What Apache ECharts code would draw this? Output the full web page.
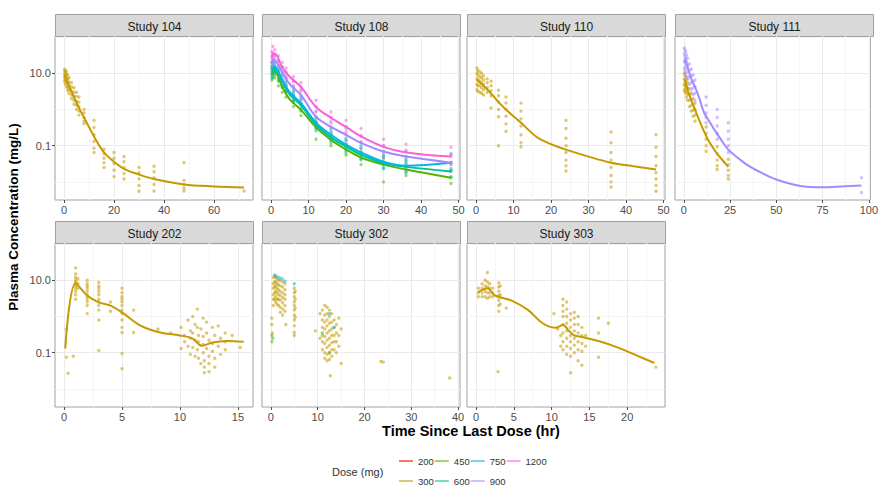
<!DOCTYPE html>
<html>
<head>
<meta charset="utf-8">
<script src="https://cdn.jsdelivr.net/npm/echarts@6.0.0/dist/echarts.min.js"></script>
<style>
  html, body { margin: 0; padding: 0; background: #ffffff; }
  #chart { width: 881px; height: 487px; }
</style>
</head>
<body>
<div id="chart"></div>
<script>
// ---- Observed concentrations (mg/L): [time (hr), [concentrations at that time]] ----
const pts104_300 = [
  [0.25,[13,11,9,7.5,6]],[0.5,[12,10,8,6.5,5]],[1,[11,9,7,5.5,4.2]],[1.5,[9,7,5.5,4.2,3.4]],
  [2,[7.5,5.8,4.5,3.5,2.8]],[3,[5.5,4.2,3.2,2.5,2]],[4,[4,3,2.3,1.8,1.4]],[5,[3,2.3,1.7,1.3,1]],
  [6,[2.2,1.6,1.2,0.9,0.7]],[8,[1,0.8,0.6,0.47,0.4]],[12,[0.5,0.32,0.2,0.13,0.085,0.065]],
  [16,[0.08,0.06,0.045,0.034,0.025]],[20,[0.065,0.045,0.032,0.021,0.014]],[24,[0.05,0.036,0.025,0.017,0.012]],
  [30,[0.025,0.018,0.012,0.008,0.0055]],[36,[0.027,0.019,0.013,0.0085,0.0056]],
  [48,[0.034,0.011,0.0085,0.0067,0.0056]],[72,[0.0056]]
];
const pts108_450 = [
  [0.25,[14,9.5,6.5]],[0.5,[16,11,7.5]],[1,[15,11,7.5]],[2,[9.5,6.5,4.5]],[3,[6,4.2,3]],[4,[4.5,3.2,2.2]],
  [6,[2.4,1.7,1.2]],[8,[1.4,0.98,0.68]],[12,[0.46,0.32,0.15]],[16,[0.21,0.145,0.1]],[20,[0.11,0.079,0.055]],
  [24,[0.068,0.047,0.03]],[30,[0.044,0.03,0.01]],[36,[0.032,0.022,0.015]],[48,[0.02,0.013,0.009]]
];
const pts108_600 = [
  [0.25,[16,11,7.5]],[0.5,[19,13,9]],[1,[18,13,9]],[2,[12,8.5,6]],[3,[8.5,5.8,4]],[4,[6,4.2,3]],
  [6,[3.2,2.3,1.6]],[8,[1.9,1.3,0.9]],[12,[0.55,0.38,0.26]],[16,[0.25,0.17,0.12]],[20,[0.14,0.095,0.065]],
  [24,[0.085,0.056,0.04]],[30,[0.05,0.033,0.023]],[36,[0.038,0.026,0.018]],[48,[0.03,0.02,0.014]]
];
const pts108_750 = [
  [0.25,[20,13,9]],[0.5,[24,16,11]],[1,[21,15,10]],[2,[14,10,7]],[3,[9.5,6.5,4.5]],[4,[7,4.8,3.4]],
  [6,[3.8,2.6,1.8]],[8,[2.2,1.5,1.05]],[12,[0.62,0.43,0.3]],[16,[0.3,0.2,0.14]],[20,[0.16,0.11,0.075]],
  [24,[0.1,0.065,0.045]],[30,[0.055,0.036,0.025]],[36,[0.042,0.028,0.019]],[48,[0.06,0.034,0.022]]
];
const pts108_900 = [
  [0.25,[30,20,14]],[0.5,[35,24,17]],[1,[30,22,16]],[2,[22,16,11]],[3,[15,10.5,7.5]],[4,[11,8,5.5]],
  [6,[6,4.2,3]],[8,[3.5,2.5,1.8]],[12,[0.9,0.62,0.45]],[16,[0.48,0.33,0.23]],[20,[0.3,0.2,0.14]],
  [24,[0.18,0.12,0.085]],[30,[0.1,0.07,0.048]],[36,[0.075,0.05,0.034]],[48,[0.05,0.034,0.024]]
];
const pts108_1200 = [
  [0.25,[40,28,20]],[0.5,[55,35,24]],[1,[45,32,25]],[2,[30,22,16]],[3,[20,15,11]],[4,[14,10,7.5]],
  [6,[8,6,4.5]],[8,[5.5,4.2,3.2]],[12,[1.8,1.2,0.85]],[16,[0.85,0.6,0.42]],[20,[0.5,0.34,0.24]],
  [24,[0.3,0.19,0.13]],[30,[0.15,0.1,0.065]],[36,[0.11,0.07,0.05]],[48,[0.09,0.055,0.035]]
];
const pts110_300 = [
  [0.25,[14,10,7,5,3.5]],[0.5,[12,9,6.5,4.5,3.2]],[1,[11,8,6,4.5,3]],[1.5,[10,7.5,5.5,4,2.8]],
  [2,[8.5,6.5,5,3.5,2.5]],[3,[7,5.5,4,3]],[4,[6,4.5,3.3,2.4,1.1]],[6,[3.4,2.4,1.6,1,0.63,0.1]],
  [8,[2.2,1.5,1,0.65,0.4,0.25]],[12,[1.5,0.9,0.55,0.35,0.2,0.12,0.093]],
  [24,[0.5,0.3,0.16,0.1,0.065,0.04,0.028,0.02]],[36,[0.24,0.12,0.065,0.04,0.025,0.015,0.01,0.0072]],
  [48,[0.2,0.09,0.05,0.028,0.018,0.012,0.008,0.0055]]
];
const pts111_300 = [
  [0.25,[10,7,5,3.5]],[0.5,[9,6.5,4.5,3.2]],[1,[8,5.5,4,2.8]],[1.5,[6.5,4.5,3.2,2.2]],[2,[5.5,3.8,2.6,1.8]],
  [3,[3.8,2.6,1.8,1.2]],[4,[2.8,1.9,1.3,0.9]],[5,[2,1.4,0.95,0.65]],[6,[1.5,1,0.7,0.48]],
  [12,[0.33,0.22,0.15,0.1,0.07]],[18,[0.093,0.06,0.04,0.028,0.022]],[24,[0.042,0.03,0.021,0.015,0.012]]
];
const pts111_900 = [
  [0.25,[50,35,22,14]],[0.5,[45,30,20,12]],[1,[40,26,17,10]],[1.5,[32,21,14,8]],[2,[26,17,11,7]],
  [3,[18,12,8,5]],[4,[13,8.5,5.5,3.5]],[5,[9,6,4,2.6]],[6,[6.5,4.3,2.8,1.8]],
  [12,[2.2,1.3,0.8,0.6,0.43]],[18,[1,0.6,0.35,0.22,0.15]],[24,[0.43,0.25,0.15,0.1,0.065]],[96,[0.013,0.0051]]
];
const pts202_300 = [
  [0.2,[0.45,0.075]],[0.35,[0.027]],[0.8,[0.08]],
  [1,[22,15,12,10,9,8,7,6,5,4,3]],[1.2,[11,8,6]],
  [2,[10,8,7,6,5,4,3.5,3,2.5,2,1.2]],[3,[8.7,7,6,5,4,3,2.5,2,1.5,0.8,0.115]],[4,[2.5,1.4]],
  [5,[6,4.5,3.5,3,2.5,2,1.5,1.2,0.8,0.5,0.36,0.095,0.036]],[6,[1.5,0.36]],[8.1,[0.45]],[9.2,[0.35]],
  [10.1,[0.5,0.13]],[10.4,[0.3,0.2]],[10.7,[0.8,0.15]],[10.9,[0.4,0.25,0.09]],[11.1,[1.0,0.35,0.14]],
  [11.3,[0.6,0.22,0.08]],[11.5,[1.6,0.5,0.12]],[11.6,[0.3,0.2,0.07]],[11.8,[0.05,0.45]],
  [12,[0.9,0.28,0.17,0.1]],[12.1,[0.06,0.04,0.028]],[12.3,[0.7,0.35,0.13]],[12.5,[0.22,0.08,0.05,0.03]],
  [12.8,[0.5,0.18,0.11]],[13,[0.3,0.07,0.04]],[13.3,[0.55,0.15]],[13.5,[0.25,0.09]],
  [13.9,[0.35,0.2,0.12]],[14.5,[0.3]],[15.2,[0.14]]
];
const pts302_300 = [
  [0.2,[0.9,0.6]],[0.3,[0.35]],
  [0.5,[12,8,6,4,3,2]],[0.8,[13,9,6.5,4.5,3]],[1,[12,9,7,5,3.5,2.5]],[1.3,[11,8,6,4.5,3,2.2]],
  [1.6,[10,7.5,5.5,4,3,2]],[2,[10,7,5,3.8,2.8,1.8,1.3]],[2.5,[9,6.5,4.5,3.3,2.4,1.6,1.1]],
  [3,[8,5.5,4,3,2,1.4]],[3.2,[0.6]],
  [5,[6,4.5,3.5,2.5,2,1.5,1.1,0.8,0.55,0.36,0.3]],[5.2,[5,3,1.7,0.95]],
  [9.5,[0.4]],[10.5,[1.2,0.25]],[11,[1.5,0.8,0.5,0.3,0.2,0.12]],[11.5,[2,1.1,0.7,0.45,0.28,0.18,0.1,0.07]],
  [12,[1.8,1.2,0.8,0.55,0.35,0.22,0.14,0.09,0.06]],[12.5,[1.5,1,0.65,0.4,0.25,0.16,0.1,0.065]],
  [12.7,[0.023]],[13,[1.2,0.7,0.45,0.3,0.19,0.12,0.08]],[13.5,[0.8,0.5,0.3,0.2,0.12]],
  [14,[0.6,0.35,0.2,0.1]],[14.5,[0.9,0.3,0.15]],[15,[0.45,0.05]],
  [23.5,[0.057]],[24,[0.055]],[38.2,[0.02]]
];
const pts302_450 = [[0.2,[0.3,0.2]],[0.4,[0.25]],[11,[0.35]],[12.5,[0.1]]];
const pts302_750 = [[0.8,[14]],[1.2,[13]],[1.8,[12]],[2.4,[11]],[3,[9.5]],[5,[8]],[12.5,[1.2]],[13.5,[0.5]]];
const pts303_300 = [
  [0.3,[6,4.5,3.5]],[0.8,[8,6,4.5,3.5]],[1.2,[10,7,5,3.5]],[1.5,[16.5,9,6.5,4.5,3.2]],[1.8,[8,6,4.5,3.5]],
  [2.2,[6,4.5,3.5]],[3,[8.5,6.5,5,3.8,2.8,2,1.4]],[3.2,[7,4,2.2]],[2.9,[0.03]],[4,[1.7]],
  [10.3,[1.2]],[10.8,[0.45]],[11.2,[0.3,0.15]],[11.5,[3,2,1.4,1,0.6,0.35,0.2,0.12]],
  [12,[2.5,1.6,1,0.65,0.4,0.25,0.15,0.09]],[12.5,[1.2,0.8,0.5,0.3,0.2,0.13,0.08,0.028]],
  [13,[1.3,0.9,0.6,0.4,0.25,0.16,0.1]],[13.5,[1,0.6,0.35,0.2,0.12,0.06]],[14,[0.5,0.3,0.18,0.11,0.045]],
  [14.5,[0.3,0.15]],[16.2,[0.9,0.35,0.075]],[17.5,[0.65]],[23.8,[0.04]]
];

// ---- Smoothed concentration-time curves: [time (hr), concentration (mg/L)] ----
const line104_300 = [[0.25,9],[1,6.5],[2,4.5],[4,2.2],[6,1.1],[8,0.6],[10,0.33],[12,0.18],[16,0.065],[20,0.036],[24,0.023],[30,0.016],[36,0.012],[48,0.0085],[60,0.0075],[72,0.007]];
const line108_450 = [[0.25,9.5],[1,11],[3,4.2],[5,1.9],[8,0.98],[12,0.32],[16,0.145],[20,0.079],[24,0.047],[30,0.03],[36,0.022],[48,0.013]];
const line108_600 = [[0.25,11],[1,13],[3,5.8],[5,2.6],[8,1.3],[12,0.38],[16,0.17],[20,0.095],[24,0.056],[30,0.033],[36,0.026],[48,0.0195]];
const line108_750 = [[0.25,13],[1,15],[3,6.5],[5,3.0],[8,1.5],[12,0.43],[16,0.2],[20,0.107],[24,0.065],[30,0.036],[36,0.028],[48,0.034]];
const line108_900 = [[0.25,20],[1,22],[3,10.7],[5,5.0],[8,2.5],[12,0.63],[16,0.33],[20,0.2],[24,0.12],[30,0.069],[36,0.05],[48,0.034]];
const line108_1200 = [[0.25,28],[1,35],[3,14.5],[5,8.0],[8,4.2],[12,1.17],[16,0.59],[20,0.33],[24,0.18],[30,0.093],[36,0.065],[48,0.05]];
const line110_300 = [[0.25,6.5],[2,4.5],[4,2.8],[6,1.6],[8,1.0],[10,0.65],[12,0.43],[16,0.18],[20,0.11],[24,0.078],[30,0.05],[36,0.034],[42,0.027],[48,0.022]];
const line111_300 = [[0.5,6.5],[2,3.5],[4,1.8],[6,1.0],[8,0.55],[11,0.24],[14,0.12],[17.5,0.065],[20,0.045],[24,0.026]];
const line111_900 = [[0.5,26],[2,15],[4,7],[6,4.2],[8,2.3],[11,0.8],[14,0.45],[17.5,0.23],[20,0.15],[24,0.078],[30,0.043],[34,0.03],[40,0.02],[50,0.0117],[64,0.0076],[75,0.0071],[87,0.0076],[96,0.0079]];
const line202_300 = [[0.1,0.13],[1,8.3],[2,3.8],[3,2.45],[4,2.0],[5,1.3],[6.6,0.56],[8.3,0.36],[10,0.3],[11.1,0.245],[11.9,0.155],[12.8,0.19],[14,0.21],[15.5,0.2]];
const line303_300 = [[0.3,4.7],[1.5,6],[2.5,3.8],[4.7,2.75],[6.9,1.5],[8.8,0.65],[10.5,0.49],[11.5,0.58],[12.3,0.4],[13,0.3],[14,0.27],[16.2,0.21],[18.7,0.14],[21.3,0.083],[23.6,0.052]];

// ---- Axis breaks ----
const yBreaks = [0.1, 10];            // labelled concentration breaks
const yMinorBreaks = [0.01, 1, 100];
const ticks104 = [0, 20, 40, 60],        minor104 = [10, 30, 50, 70];
const ticks108 = [0, 10, 20, 30, 40, 50], minor108 = [5, 15, 25, 35, 45];
const ticks110 = [0, 10, 20, 30, 40, 50], minor110 = [5, 15, 25, 35, 45];
const ticks111 = [0, 25, 50, 75, 100],   minor111 = [12.5, 37.5, 62.5, 87.5];
const ticks202 = [0, 5, 10, 15],         minor202 = [2.5, 7.5, 12.5];
const ticks302 = [0, 10, 20, 30, 40],    minor302 = [5, 15, 25, 35];
const ticks303 = [0, 5, 10, 15, 20],     minor303 = [2.5, 7.5, 12.5, 17.5, 22.5];

const doseColors = {
  '200': '#F8766D', '300': '#C49A00', '450': '#53B400', '600': '#00C094',
  '750': '#00B6EB', '900': '#A58AFF', '1200': '#FB61D7'
};

// ---- Facets ----
const facets = [
  { title: 'Study 104', xRange: [-3.6, 75.6], ticks: ticks104, minor: minor104,
    groups: [['300', pts104_300, line104_300]] },
  { title: 'Study 108', xRange: [-2.4, 50.4], ticks: ticks108, minor: minor108,
    groups: [['450', pts108_450, line108_450], ['600', pts108_600, line108_600], ['750', pts108_750, line108_750],
             ['900', pts108_900, line108_900], ['1200', pts108_1200, line108_1200]] },
  { title: 'Study 110', xRange: [-2.4, 50.4], ticks: ticks110, minor: minor110,
    groups: [['300', pts110_300, line110_300]] },
  { title: 'Study 111', xRange: [-4.8, 100.8], ticks: ticks111, minor: minor111,
    groups: [['300', pts111_300, line111_300], ['900', pts111_900, line111_900]] },
  { title: 'Study 202', xRange: [-0.78, 16.3], ticks: ticks202, minor: minor202,
    groups: [['300', pts202_300, line202_300]] },
  { title: 'Study 302', xRange: [-1.9, 40.4], ticks: ticks302, minor: minor302,
    groups: [['300', pts302_300, null], ['450', pts302_450, null], ['750', pts302_750, null]] },
  { title: 'Study 303', xRange: [-1.2, 25.0], ticks: ticks303, minor: minor303,
    groups: [['300', pts303_300, line303_300]] }
];

const log10 = Math.log10;
function expandPoints(groups) {
  const out = [];
  groups.forEach(function (g) {
    g[1].forEach(function (c) { out.push([g[0], log10(c)]); });
  });
  return out;
}
function curve(pairs) {
  return pairs.map(function (p) { return [p[0], log10(p[1])]; });
}

// ---- Layout ----
const FONT = '"Liberation Sans", Arial, Helvetica, sans-serif';
const colLeft = [55, 262, 467, 675];
const rowTop = [36, 243];
const panelW = 198, panelH = 164, stripH = 22;
const yRange = [-2.5, 2.03];
const TICK_COLOR = '#4d4d4d';

const grid = [], xAxis = [], yAxis = [], series = [], graphic = [];

facets.forEach(function (f, i) {
  const row = i < 4 ? 0 : 1;
  const col = i < 4 ? i : i - 4;
  const left = colLeft[col], top = rowTop[row];
  grid.push({ left: left, top: top, width: panelW, height: panelH, show: true,
              borderColor: '#a0a0a0', borderWidth: 1, backgroundColor: '#ffffff' });

  // main x axis (labels, ticks, major grid)
  xAxis.push({
    type: 'value', gridIndex: i, min: f.xRange[0], max: f.xRange[1], position: 'bottom',
    axisLine: { show: false, onZero: false },
    axisTick: { show: true, length: 3, customValues: f.ticks, lineStyle: { color: TICK_COLOR } },
    axisLabel: { customValues: f.ticks, color: TICK_COLOR, fontSize: 11, fontFamily: FONT, margin: 4 },
    splitLine: { show: true, lineStyle: { color: '#ebebeb', width: 1 } }
  });
  // minor x grid
  xAxis.push({
    type: 'value', gridIndex: i, min: f.xRange[0], max: f.xRange[1], position: 'bottom',
    axisLine: { show: false, onZero: false }, axisLabel: { show: false },
    axisTick: { show: false, customValues: f.minor },
    splitLine: { show: true, lineStyle: { color: '#f5f5f5', width: 1 } }
  });
  const yTicks = yBreaks.map(log10);
  yAxis.push({
    type: 'value', gridIndex: i, min: yRange[0], max: yRange[1], position: 'left',
    axisLine: { show: false, onZero: false },
    axisTick: { show: col === 0, length: 3, customValues: yTicks, lineStyle: { color: TICK_COLOR } },
    axisLabel: { show: col === 0, customValues: yTicks, color: TICK_COLOR, fontSize: 11, fontFamily: FONT, margin: 4,
                 formatter: function (v) { return Math.pow(10, v).toFixed(1); } },
    splitLine: { show: true, lineStyle: { color: '#ebebeb', width: 1 } }
  });
  yAxis.push({
    type: 'value', gridIndex: i, min: yRange[0], max: yRange[1], position: 'left',
    axisLine: { show: false, onZero: false }, axisLabel: { show: false },
    axisTick: { show: false, customValues: yMinorBreaks.map(log10) },
    splitLine: { show: true, lineStyle: { color: '#f5f5f5', width: 1 } }
  });

  // strip header
  graphic.push({
    type: 'group', left: left, top: top - stripH,
    children: [
      { type: 'rect', shape: { x: 0, y: 0, width: panelW, height: stripH },
        style: { fill: '#d9d9d9', stroke: '#a0a0a0', lineWidth: 1 } },
      { type: 'text', x: panelW / 2, y: stripH / 2 + 1,
        style: { text: f.title, fill: '#1a1a1a', font: '12px ' + FONT, align: 'center', verticalAlign: 'middle' } }
    ]
  });

  const xIdx = i * 2, yIdx = i * 2;
  // points first, curves on top
  f.groups.forEach(function (g) {
    series.push({
      name: g[0], type: 'scatter', xAxisIndex: xIdx, yAxisIndex: yIdx,
      data: expandPoints(g[1]), symbolSize: 3.4, z: 2,
      itemStyle: { color: doseColors[g[0]], opacity: 0.55 }, silent: true
    });
  });
  f.groups.forEach(function (g) {
    if (!g[2]) return;
    series.push({
      name: g[0], type: 'line', xAxisIndex: xIdx, yAxisIndex: yIdx,
      data: curve(g[2]), showSymbol: false, smooth: 0.35, z: 3,
      lineStyle: { color: doseColors[g[0]], width: 2 }, itemStyle: { color: doseColors[g[0]] }, silent: true
    });
  });
});

// a dose level that is not observed in any study still has a legend key
series.unshift({ name: '200', type: 'line', xAxisIndex: 0, yAxisIndex: 0, data: [],
                 lineStyle: { color: doseColors['200'] }, itemStyle: { color: doseColors['200'] } });

// axis titles and legend title
graphic.push({
  type: 'text', x: 13, y: 217, rotation: Math.PI / 2,
  style: { text: 'Plasma Concentration (mg/L)', fill: '#000', font: 'bold 13.5px ' + FONT,
           align: 'center', verticalAlign: 'middle' }
});
graphic.push({
  type: 'text', x: 471, y: 431,
  style: { text: 'Time Since Last Dose (hr)', fill: '#000', font: 'bold 14.5px ' + FONT,
           align: 'center', verticalAlign: 'middle' }
});
graphic.push({
  type: 'text', x: 332, y: 472,
  style: { text: 'Dose (mg)', fill: '#333', font: '11px ' + FONT, align: 'left', verticalAlign: 'middle' }
});

const legendBase = {
  icon: 'rect', itemWidth: 14, itemHeight: 2, itemGap: 1, left: 399, orient: 'horizontal', padding: 0,
  textStyle: { color: '#333', fontSize: 9.5, fontFamily: FONT }, selectedMode: false
};
const legend = [
  Object.assign({}, legendBase, { top: 456, data: ['200', '450', '750', '1200'] }),
  Object.assign({}, legendBase, { top: 476, data: ['300', '600', '900'] })
];

const chart = echarts.init(document.getElementById('chart'), null, { renderer: 'svg' });
chart.setOption({
  backgroundColor: '#ffffff',
  animation: false,
  grid: grid, xAxis: xAxis, yAxis: yAxis, series: series, graphic: graphic, legend: legend
});
</script>
</body>
</html>
